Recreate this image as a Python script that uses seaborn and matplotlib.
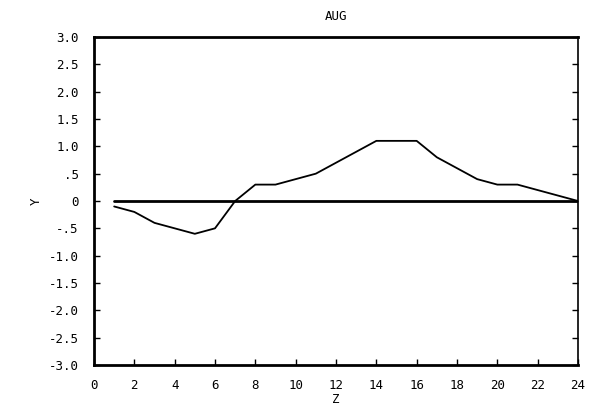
import matplotlib
matplotlib.use("Agg")
import matplotlib.pyplot as plt
import seaborn as sns
import pandas as pd

hours = list(range(1, 25))
values = [-0.1, -0.2, -0.4, -0.5, -0.6, -0.5, 0.0, 0.3, 0.3, 0.4,
          0.5, 0.7, 0.9, 1.1, 1.1, 1.1, 0.8, 0.6, 0.4, 0.3,
          0.3, 0.2, 0.1, 0.0]
baseline = [0.0] * 24
x_ticks = list(range(0, 25, 2))
y_ticks = [3.0, 2.5, 2.0, 1.5, 1.0, 0.5, 0.0, -0.5, -1.0, -1.5, -2.0, -2.5, -3.0]
y_tick_labels = ["3.0", "2.5", "2.0", "1.5", "1.0", ".5", "0", "-.5", "-1.0", "-1.5", "-2.0", "-2.5", "-3.0"]
title = "AUG"
xlabel = "Z"
ylabel = "Y"

sns.set_theme(style="white")
plt.rcParams["font.family"] = ["DejaVu Sans Mono", "DejaVu Sans"]

df = pd.DataFrame({"hour": hours, "value": values, "base": baseline})

fig = plt.figure(figsize=(5.9, 4.2), dpi=100)
ax = fig.add_axes([94 / 590, 1 - 365 / 420, (578 - 94) / 590, (365 - 37) / 420])

sns.lineplot(data=df, x="hour", y="base", ax=ax, color="black", linewidth=2.0)
sns.lineplot(data=df, x="hour", y="value", ax=ax, color="black", linewidth=1.3)

ax.set_xlim(0, 24)
ax.set_ylim(-3, 3)
ax.set_xticks(x_ticks)
ax.set_xticklabels([str(t) for t in x_ticks])
ax.set_yticks(y_ticks)
ax.set_yticklabels(y_tick_labels)
ax.tick_params(axis="both", direction="in", length=4, width=1, colors="black",
               labelsize=9, left=True, right=True, bottom=True, top=False)
ax.tick_params(axis="y", pad=11)
ax.tick_params(axis="x", pad=10)
for side in ["left", "top", "bottom"]:
    ax.spines[side].set_linewidth(2.0)
    ax.spines[side].set_color("black")
ax.spines["right"].set_linewidth(1.2)
ax.spines["right"].set_color("black")

ax.set_title(title, fontsize=9, color="black", pad=12)
ax.set_xlabel(xlabel, fontsize=9, color="black", labelpad=1)
ax.set_ylabel(ylabel, fontsize=9, color="black", labelpad=4)
ax.grid(False)

fig.savefig("out.png", dpi=100, facecolor="white")
